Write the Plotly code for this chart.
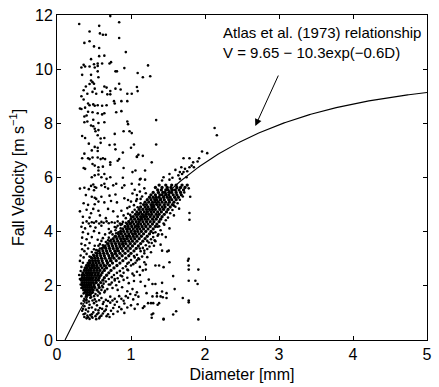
import plotly.graph_objects as go
import numpy as np

# ---------------- data ----------------
# sparse points above the main cloud (diameter mm, velocity m/s)
upper_d = [0.72,0.30,0.84,0.57,0.44,0.58,0.62,0.66,0.84,0.37,0.44,0.50,0.57,0.93,0.57,0.64,0.46,0.50,0.55,0.61,
           0.71,0.73,0.36,0.33,0.38,0.44,0.51,0.55,0.91,0.79,0.81,0.55,0.34,0.46,1.09,0.56,0.46,0.48,0.50,0.44,
           0.39,0.64,0.67,0.84,1.16,0.36,0.51,0.72,0.79,0.86,1.08,1.09,0.41,0.48,0.53,0.61,0.68,0.72,0.95,1.01,
           0.33,1.23,1.26,1.34,1.34,1.28,1.16,1.08,1.19,1.12,1.06,2.13,2.16,1.96,2.03]
upper_v = [11.96,11.67,11.73,11.60,11.39,11.32,11.27,11.27,11.15,10.97,11.03,10.84,10.78,10.63,10.48,10.50,10.37,10.18,10.21,10.21,
           10.21,10.26,10.16,10.06,10.10,10.10,10.06,10.12,10.04,9.92,9.92,9.92,9.79,9.79,9.86,9.70,9.58,9.52,9.46,9.45,
           9.36,9.36,9.32,9.46,9.70,9.22,9.28,9.19,9.28,9.25,9.34,9.19,9.09,9.16,9.09,9.16,9.07,9.07,9.09,9.09,
           9.00,10.14,9.74,8.12,7.22,6.56,6.80,6.77,5.92,5.93,6.26,7.83,7.56,6.96,6.90]

mid_d = [0.36,0.42,0.44,0.49,0.51,0.55,0.61,0.67,0.77,0.78,0.87,0.95,0.31,0.33,0.38,0.42,0.48,0.55,0.61,0.64,
         0.80,0.87,0.37,0.40,0.41,0.37,0.49,0.56,0.64,0.95,0.96,0.46,0.49,0.51,0.52,0.56,0.78,0.90,0.98,1.01,
         0.55,0.34,0.38,0.59,0.64,0.43,0.59,0.51,0.55,0.71,0.78,0.79,0.89,1.00,1.04,0.47,0.55,0.37,0.34,0.42,
         0.44,0.48,0.55,0.59,0.62,0.65,0.72,0.72,0.82,0.84,1.08,1.10,0.36,0.38,0.48,0.51,0.56,0.62,0.90,1.02,
         0.56,0.64,0.47,0.51,0.56,0.60,0.67,0.72,0.89,1.13,1.19,1.71,1.79,1.92,1.84,1.90,1.82,1.79,1.85,1.60,
         1.68,1.73,1.76,1.66,1.69,1.71,1.52,1.44,1.56,1.64,1.66,1.75,1.42,1.52]
mid_v = [8.88,8.73,8.67,8.70,8.65,8.67,8.65,8.67,8.82,8.73,8.82,8.82,8.55,8.53,8.58,8.43,8.41,8.37,8.33,8.37,
         8.41,8.45,8.25,8.29,8.07,8.04,8.13,8.01,8.04,8.07,7.97,7.92,7.89,7.80,7.71,7.75,7.61,7.71,7.71,7.64,
         7.56,7.53,7.46,7.44,7.46,7.25,7.28,7.13,7.10,7.20,7.22,7.04,6.92,7.10,7.22,7.00,6.98,6.88,6.71,6.71,
         6.68,6.74,6.74,6.68,6.71,6.68,6.56,6.47,6.62,6.68,6.76,6.84,6.35,6.32,6.50,6.44,6.38,6.40,6.35,6.20,
         6.26,6.13,6.01,6.08,6.11,6.01,5.95,6.01,5.99,5.95,6.26,6.71,6.71,6.71,6.56,6.59,6.44,6.38,6.38,6.28,
         6.38,6.32,6.23,6.20,6.13,6.20,6.13,6.01,5.99,6.08,5.95,6.01,5.89,5.92]

low_d = [0.31,0.37,0.43,0.46,0.49,0.51,0.50,0.53,0.60,0.64,0.65,0.69,0.76,0.80,0.88,0.91,1.01,1.11,
         0.39,0.47,0.51,0.53,0.60,0.71,0.79,0.91,1.02,1.08,0.36,0.42,0.51,0.56,0.64,0.73,0.81,0.96,1.00,1.07,1.13,
         0.40,0.46,0.49,0.56,0.69,0.76,0.87,0.95,1.05,1.11,1.16,0.35,0.44,0.58,0.66,0.82,0.99,0.31,
         0.35,0.40,0.43,0.47,0.50,0.53,0.57,0.60,0.63,0.67,0.70,0.74,0.78,0.82,0.85,0.89,0.93,0.97,1.00]
low_v = [5.59,5.62,5.57,5.69,5.74,5.65,5.53,5.62,5.71,5.77,5.65,5.59,5.71,5.77,5.62,5.71,5.77,5.74,
         5.35,5.29,5.25,5.21,5.29,5.33,5.37,5.23,5.41,5.35,5.05,4.99,5.01,5.11,5.08,5.13,5.08,5.17,5.11,5.13,5.21,
         4.81,4.68,4.84,4.77,4.84,4.75,4.77,4.87,4.81,4.68,4.63,4.55,4.52,4.60,4.50,4.56,4.62,4.75,
         4.33,4.38,4.30,4.35,4.33,4.38,4.30,4.36,4.33,4.38,4.31,4.35,4.33,4.38,4.30,4.36,4.33,4.38,4.31]

side_d = [0.33,0.38,0.45,0.52,0.60,0.70,0.78,0.86,0.35,0.42,0.50,0.57,0.65,0.73,0.80,0.34,0.40,0.47,0.55,0.62,0.69,
          0.33,0.38,0.44,0.51,0.58,0.63,0.34,0.37,0.42,0.47,0.53,0.32,0.36,0.40,0.44,0.31,0.35,0.33,0.32,0.30,0.31,0.32,0.33,
          1.38,1.45,1.52,1.30,1.36,1.42,1.47,1.22,1.28,1.33,1.40,1.31,1.12,1.18,1.22,1.27,1.42,1.49,1.51,
          1.04,1.10,1.15,1.22,1.08,1.78,1.77,0.95,1.00,1.06,1.12,1.18,1.20,1.33,1.38,1.44,1.52,1.78,1.78,1.91,1.20,1.16,
          0.85,0.90,0.96,1.02,1.08,0.88,0.95,1.04,1.57,1.12,0.78,0.84,0.90,0.97,1.04,1.24,1.29,1.33,1.42,1.13,1.19,
          1.78,1.87,1.90,0.72,0.80,0.62,0.68,0.75,0.82,0.88,0.95,1.02,1.08,1.21,1.35,1.42,1.48,1.59,0.64,0.58,
          0.33,0.37,0.41,0.46,0.51,0.55,0.60,0.66,0.72,0.78,0.84,0.90,0.96,1.03,1.10,1.29,1.35,1.40,1.43,1.48,1.70,1.78,1.78,
          0.33,0.37,0.40,0.44,0.47,0.50,0.54,0.58,0.62,0.67,0.72,0.78,0.84,0.91,1.00,1.09,1.23,1.27,1.30,1.36,1.38,1.16,1.18,
          0.34,0.38,0.42,0.45,0.49,0.52,0.56,0.60,0.64,0.69,0.73,0.82,0.91,0.37,0.40,0.44,0.48,0.53,0.57,0.71,
          1.28,1.44,1.61,1.57,1.30,1.28,1.44,1.91,1.79,1.79,1.80,1.58]
side_v = [4.18,4.12,4.20,4.15,4.22,4.10,4.17,4.25,3.98,3.92,4.02,3.95,3.90,4.00,3.94,3.78,3.72,3.80,3.70,3.76,3.68,
          3.55,3.50,3.58,3.48,3.54,3.45,3.35,3.28,3.38,3.25,3.32,3.12,3.05,3.18,3.08,2.92,2.85,2.70,2.55,2.40,2.25,2.05,1.92,
          4.20,4.26,4.12,3.95,3.85,3.90,3.80,3.66,3.58,3.65,3.52,3.48,3.38,3.30,3.36,3.24,3.30,3.27,3.30,
          3.10,3.02,3.08,3.06,2.94,3.00,2.93,2.82,2.75,2.85,2.70,2.87,2.79,2.75,2.75,2.69,2.87,2.75,2.60,2.60,2.60,2.57,
          2.55,2.48,2.58,2.45,2.52,2.35,2.30,2.38,2.36,2.40,2.25,2.15,2.22,2.10,2.18,2.23,2.07,2.07,2.11,2.15,1.99,
          2.19,2.19,2.07,2.05,2.02,1.95,1.88,1.92,1.85,1.95,1.80,1.88,1.76,1.73,1.73,1.79,1.73,1.88,1.76,1.72,
          1.62,1.52,1.66,1.58,1.50,1.64,1.55,1.48,1.60,1.52,1.62,1.45,1.56,1.50,1.60,1.61,1.61,1.61,1.58,1.55,1.55,1.46,1.39,
          1.35,1.25,1.38,1.30,1.20,1.36,1.28,1.18,1.33,1.25,1.38,1.30,1.22,1.35,1.28,1.32,1.36,1.36,1.36,1.30,1.36,1.18,1.24,
          1.08,0.98,1.05,0.92,1.02,0.88,1.00,0.90,1.06,0.95,1.08,1.05,1.00,0.85,0.80,0.78,0.82,0.77,0.80,0.85,
          0.94,0.78,1.06,0.94,0.98,0.82,0.76,0.76,4.69,4.44,5.29,4.96]

# moderate-density halo around the diagonal band and below the core
halo_d = [1.05,1.12,1.18,1.15,1.20,1.08,1.13,1.04,1.09,0.98,1.02,0.96,1.00,0.93,0.90,
          1.72,1.78,1.70,1.66,1.63,1.60,1.56,1.53,1.50,1.47,1.44,1.58,1.65,
          0.82,0.86,0.79,0.83,0.75,0.78,0.70,0.73,0.66,0.68,0.62,0.64,0.58,0.55,0.52,0.49,0.46,0.88,0.80,0.71,0.60,0.56,0.50,
          1.36,1.40,1.33,1.37,1.30,1.27,1.32,1.24,1.20,1.25,1.16,1.13,1.18,1.08,1.05,1.11,1.00,0.97,1.03,0.93,0.89,0.95,
          0.85,0.81,0.77,0.74,0.70,0.66,0.63,0.61,0.86,0.82,0.78,0.74,0.70,
          0.36,0.42,0.47,0.52,0.56,0.60,0.65,0.50,0.45,0.39,
          0.36,0.40,0.43,0.48,0.53,0.57,0.63,0.69,0.75,0.81,0.87,0.93,0.99,1.06,0.35,0.39,0.43,0.52,0.56,0.61,0.66,
          0.76,0.87,0.95,1.05,0.36,0.41,0.47,0.54,0.62,0.67,0.76,0.47,0.58,0.42]
halo_v = [5.55,5.48,5.60,5.30,5.42,5.20,5.05,4.98,4.90,4.92,4.72,4.66,4.55,4.50,4.60,
          5.45,5.60,5.30,5.18,5.05,4.92,4.80,4.68,4.52,4.42,4.30,4.60,4.85,
          4.22,4.12,4.05,3.98,3.90,3.82,3.78,3.70,3.62,3.55,3.50,3.42,3.38,3.30,3.22,3.15,3.06,4.28,4.15,3.95,3.66,3.48,3.35,
          4.18,4.05,3.98,3.90,3.80,3.72,3.68,3.60,3.50,3.45,3.40,3.28,3.20,3.15,3.05,2.98,2.95,2.86,2.80,2.72,2.65,2.60,
          2.55,2.48,2.40,2.32,2.25,2.16,2.08,2.00,2.38,2.28,2.20,2.12,2.05,
          1.72,1.68,1.74,1.70,1.78,1.85,1.82,1.62,1.56,1.60,
          1.45,1.48,1.42,1.46,1.42,1.47,1.40,1.44,1.46,1.41,1.52,1.62,1.70,1.66,1.15,1.12,1.18,1.12,1.10,1.15,1.12,
          1.18,1.14,1.20,1.15,0.95,0.90,0.95,0.95,0.98,0.88,0.96,0.86,0.86,0.84]

# dense core of the cloud: one velocity per row, the diameters seen on that row
core_v = [5.72,5.63,5.54,5.45,5.36,5.27,5.18,5.09,5.00,4.91,4.82,4.73,4.64,4.55,4.46,4.37,4.28,4.19,4.10,4.01,
          3.92,3.83,3.74,3.65,3.56,3.47,3.38,3.29,3.20,3.11,3.02,2.93,2.84,2.75,2.66,2.57,2.48,2.39,2.30,2.21,
          2.12,2.03,1.94,1.85,1.76,1.67]
core_d = [
    [1.38,1.47,1.55,1.61,1.69,1.76],
    [1.33,1.42,1.49,1.54,1.62,1.67,1.73],
    [1.36,1.41,1.47,1.50,1.56,1.60,1.65,1.71],
    [1.30,1.37,1.43,1.46,1.52,1.55,1.61,1.67],
    [1.27,1.33,1.39,1.42,1.47,1.51,1.57,1.62,1.68],
    [1.25,1.30,1.34,1.38,1.44,1.49,1.53,1.59,1.64],
    [1.22,1.27,1.32,1.35,1.40,1.45,1.51,1.55,1.61],
    [1.19,1.24,1.29,1.33,1.37,1.42,1.47,1.52,1.58],
    [1.17,1.21,1.27,1.30,1.35,1.39,1.45,1.50,1.56],
    [1.13,1.19,1.23,1.28,1.31,1.37,1.42,1.46,1.53],
    [1.11,1.16,1.21,1.25,1.29,1.33,1.39,1.44,1.50],
    [1.08,1.13,1.18,1.22,1.27,1.31,1.36,1.41,1.48],
    [1.06,1.10,1.15,1.20,1.24,1.28,1.34,1.38,1.45],
    [1.03,1.08,1.13,1.17,1.21,1.26,1.31,1.36,1.42],
    [1.00,1.05,1.10,1.14,1.19,1.23,1.29,1.34,1.40],
    [0.97,1.02,1.07,1.11,1.16,1.21,1.26,1.31,1.38],
    [0.95,0.99,1.04,1.09,1.13,1.18,1.23,1.29,1.35],
    [0.92,0.96,1.01,1.06,1.10,1.15,1.20,1.26,1.33],
    [0.89,0.94,0.98,1.03,1.08,1.12,1.17,1.23,1.30],
    [0.86,0.90,0.95,1.00,1.05,1.09,1.14,1.20,1.27],
    [0.83,0.87,0.92,0.97,1.02,1.06,1.11,1.17,1.25],
    [0.79,0.84,0.89,0.94,0.98,1.03,1.08,1.14,1.22],
    [0.76,0.81,0.86,0.90,0.95,1.00,1.05,1.11,1.19],
    [0.72,0.77,0.82,0.87,0.92,0.97,1.02,1.08,1.16],
    [0.69,0.74,0.79,0.84,0.89,0.93,0.99,1.05,1.13],
    [0.65,0.70,0.75,0.80,0.85,0.90,0.96,1.02,1.10],
    [0.61,0.66,0.71,0.76,0.81,0.87,0.93,0.99,1.07],
    [0.57,0.62,0.67,0.72,0.78,0.83,0.89,0.96,1.04],
    [0.54,0.58,0.63,0.68,0.74,0.79,0.85,0.92,1.00],
    [0.50,0.54,0.59,0.64,0.70,0.75,0.81,0.88,0.97],
    [0.47,0.51,0.55,0.60,0.65,0.71,0.77,0.84,0.93],
    [0.44,0.48,0.52,0.56,0.61,0.67,0.73,0.80,0.89],
    [0.42,0.45,0.49,0.53,0.57,0.62,0.68,0.75,0.85],
    [0.40,0.43,0.47,0.50,0.54,0.59,0.64,0.71,0.81],
    [0.38,0.41,0.45,0.48,0.52,0.56,0.61,0.67,0.77],
    [0.37,0.40,0.43,0.46,0.50,0.54,0.58,0.64,0.73],
    [0.35,0.39,0.42,0.45,0.48,0.52,0.56,0.61,0.70],
    [0.34,0.37,0.41,0.44,0.47,0.51,0.55,0.59,0.67],
    [0.34,0.37,0.40,0.43,0.46,0.49,0.53,0.57,0.64],
    [0.33,0.36,0.39,0.42,0.45,0.48,0.52,0.56,0.62],
    [0.34,0.37,0.40,0.43,0.46,0.49,0.53,0.59],
    [0.34,0.37,0.40,0.43,0.46,0.50,0.56],
    [0.35,0.38,0.41,0.44,0.47,0.51,0.57],
    [0.36,0.39,0.42,0.45,0.49,0.54],
    [0.38,0.41,0.44,0.48],
    [0.40,0.45],
]

x_ticks = [0, 1, 2, 3, 4, 5]
y_ticks = [0, 2, 4, 6, 8, 10, 12]

# Atlas et al. (1973): V = 9.65 - 10.3 exp(-0.6 D)
atlas_a, atlas_b, atlas_c = 9.65, 10.3, 0.6

# ---------------- build ----------------
sc_d = upper_d + mid_d + low_d + side_d + halo_d
sc_v = upper_v + mid_v + low_v + side_v + halo_v
cd, cv = [], []
for v, row in zip(core_v, core_d):
    cd += row
    cv += [v] * len(row)

d0 = np.log(atlas_b / atlas_a) / atlas_c
curve_d = np.linspace(d0, 5, 300)
curve_v = atlas_a - atlas_b * np.exp(-atlas_c * curve_d)

FONT = "Liberation Sans, Arial, Helvetica, sans-serif"

fig = go.Figure()
fig.add_trace(go.Scatter(x=sc_d, y=sc_v, mode="markers",
                         marker=dict(color="black", size=2.6, line=dict(width=0)),
                         showlegend=False, hoverinfo="skip"))
fig.add_trace(go.Scatter(x=cd, y=cv, mode="markers",
                         marker=dict(color="black", size=3.3, line=dict(width=0)),
                         showlegend=False, hoverinfo="skip"))
fig.add_trace(go.Scatter(x=curve_d, y=curve_v, mode="lines",
                         line=dict(color="black", width=1.1), showlegend=False))

fig.add_annotation(x=2.21, y=11.0, xref="x", yref="y",
                   text="Atlas et al. (1973) relationship<br>V = 9.65 \u2212 10.3exp(\u22120.6D)",
                   showarrow=False, xanchor="left", yanchor="middle", align="left",
                   font=dict(family=FONT, size=15, color="black"))
fig.add_annotation(x=2.68, y=7.90, ax=3.0, ay=9.82, xref="x", yref="y", axref="x", ayref="y",
                   text="", showarrow=True, arrowhead=2, arrowsize=1.4, arrowwidth=1,
                   arrowcolor="black")

axis_common = dict(showline=True, linecolor="black", linewidth=1, mirror="ticks",
                   ticks="inside", ticklen=4, tickcolor="black", tickwidth=1,
                   showgrid=False, zeroline=False,
                   tickfont=dict(family=FONT, size=16, color="black"))

fig.update_xaxes(range=[0, 5], tickvals=x_ticks, ticktext=[str(t) for t in x_ticks],
                 title=dict(text="Diameter [mm]", font=dict(family=FONT, size=16, color="black"), standoff=6),
                 **axis_common)
fig.update_yaxes(range=[0, 12], tickvals=y_ticks, ticktext=[str(t) for t in y_ticks],
                 title=dict(text="Fall Velocity [m s<sup>\u22121</sup>]", font=dict(family=FONT, size=16, color="black"), standoff=6),
                 **axis_common)

fig.update_layout(width=439, height=387, margin=dict(l=57, r=7, t=15, b=41),
                  paper_bgcolor="white", plot_bgcolor="white",
                  font=dict(family=FONT, color="black"))

fig.write_html("out.html")
